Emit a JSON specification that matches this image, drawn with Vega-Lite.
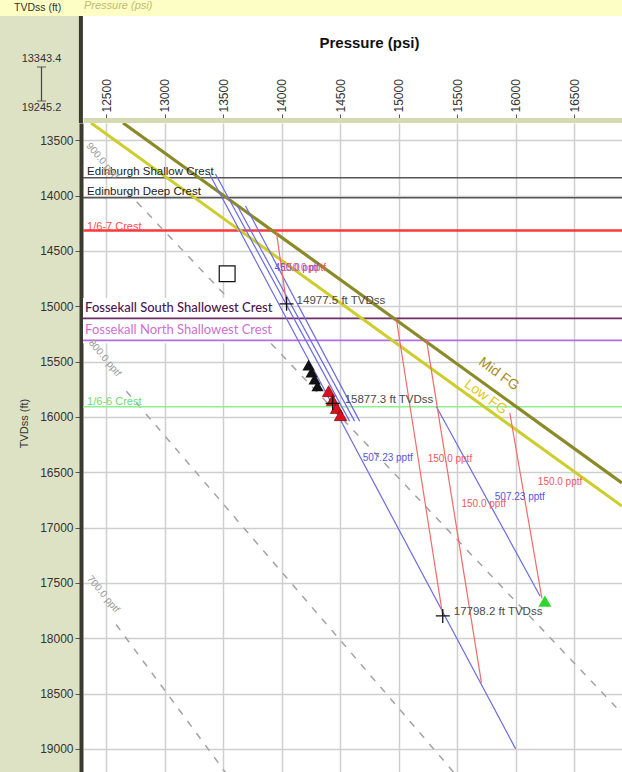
{
  "$schema": "https://vega.github.io/schema/vega-lite/v6.json",
  "background": "#fdfdc6",
  "padding": 0,
  "config": {"font": "Liberation Sans", "view": {"stroke": null}},
  "datasets": {
    "crests": [
      {"name": "Edinburgh Shallow Crest", "D": 13838},
      {"name": "Edinburgh Deep Crest", "D": 14019},
      {"name": "1/6-7 Crest", "D": 14314},
      {"name": "Fossekall South Shallowest Crest", "D": 15109},
      {"name": "Fossekall North Shallowest Crest", "D": 15308},
      {"name": "1/6-6 Crest", "D": 15908}
    ],
    "lines": [
      {"series": "Mid FG", "kind": "mid", "P": 12643, "D": 13343},
      {"series": "Mid FG", "kind": "mid", "P": 16909, "D": 16596},
      {"series": "Low FG", "kind": "low", "P": 12369, "D": 13343},
      {"series": "Low FG", "kind": "low", "P": 16909, "D": 16806},
      {"series": "g900", "kind": "grad", "P": 12671, "D": 13958},
      {"series": "g900", "kind": "grad", "P": 16909, "D": 18679},
      {"series": "g800", "kind": "grad", "P": 12671, "D": 15767},
      {"series": "g800", "kind": "grad", "P": 15522, "D": 19275},
      {"series": "g700", "kind": "grad", "P": 12583, "D": 17876},
      {"series": "g700", "kind": "grad", "P": 13562, "D": 19275},
      {"series": "b1", "kind": "blue", "P": 13382, "D": 13804},
      {"series": "b1", "kind": "blue", "P": 16000, "D": 19000},
      {"series": "b2", "kind": "blue", "P": 13433, "D": 13804},
      {"series": "b2", "kind": "blue", "P": 14580, "D": 16038},
      {"series": "b3", "kind": "blue", "P": 13621, "D": 14094},
      {"series": "b3", "kind": "blue", "P": 14623, "D": 16038},
      {"series": "b4", "kind": "blue", "P": 13690, "D": 14094},
      {"series": "b4", "kind": "blue", "P": 14666, "D": 16038},
      {"series": "b5", "kind": "blue", "P": 15323, "D": 15908},
      {"series": "b5", "kind": "blue", "P": 16210, "D": 17620},
      {"series": "r1", "kind": "red", "P": 13953, "D": 14320},
      {"series": "r1", "kind": "red", "P": 14041, "D": 14977.5},
      {"series": "r2", "kind": "red", "P": 14980, "D": 15115},
      {"series": "r2", "kind": "red", "P": 15377, "D": 17798.2},
      {"series": "r3", "kind": "red", "P": 15237, "D": 15299},
      {"series": "r3", "kind": "red", "P": 15708, "D": 18404},
      {"series": "r4", "kind": "red", "P": 15950, "D": 15962},
      {"series": "r4", "kind": "red", "P": 16225, "D": 17640}
    ],
    "markers": [
      {"kind": "square", "P": 13533, "D": 14706},
      {"kind": "black", "P": 14229, "D": 15532},
      {"kind": "black", "P": 14255, "D": 15595},
      {"kind": "black", "P": 14281, "D": 15658},
      {"kind": "black", "P": 14306, "D": 15721},
      {"kind": "red", "P": 14401, "D": 15767},
      {"kind": "red", "P": 14435, "D": 15848},
      {"kind": "red", "P": 14469, "D": 15920},
      {"kind": "red", "P": 14503, "D": 15984},
      {"kind": "green", "P": 16250, "D": 17665},
      {"kind": "cross", "P": 14041, "D": 14977.5},
      {"kind": "cross", "P": 14435, "D": 15877.3},
      {"kind": "cross", "P": 15377, "D": 17798.2}
    ],
    "labels": [
      {"kind": "depth", "text": "14977.5 ft TVDss", "P": 14127, "D": 14953},
      {"kind": "depth", "text": "15877.3 ft TVDss", "P": 14538, "D": 15848},
      {"kind": "depth", "text": "17798.2 ft TVDss", "P": 15471, "D": 17765},
      {"kind": "blue", "text": "507.23 pptf", "P": 14692, "D": 16370},
      {"kind": "blue", "text": "507.23 pptf", "P": 15822, "D": 16722},
      {"kind": "blue", "text": "450.0 pptf", "P": 13938, "D": 14652},
      {"kind": "red", "text": "150.0 pptf", "P": 15248, "D": 16384},
      {"kind": "red", "text": "150.0 pptf", "P": 15537, "D": 16791},
      {"kind": "red", "text": "150.0 pptf", "P": 16190, "D": 16587},
      {"kind": "red", "text": "150.0 pptf", "P": 13998, "D": 14652},
      {"kind": "grad", "text": "900.0 pptf", "P": 12466, "D": 13687},
      {"kind": "grad", "text": "800.0 pptf", "P": 12487, "D": 15468},
      {"kind": "grad", "text": "700.0 pptf", "P": 12474, "D": 17602},
      {"kind": "mid", "text": "Mid FG", "P": 15856, "D": 15613},
      {"kind": "low", "text": "Low FG", "P": 15745, "D": 15821}
    ]
  },
  "columns": 2,
  "spacing": 0,
  "bounds": "flush",
  "concat": [
    {
      "width": 83,
      "height": 107,
      "title": {"text": "TVDss (ft)", "anchor": "start", "fontSize": 10.5, "fontWeight": "normal", "color": "#333", "offset": 3, "dx": 14},
      "view": {"fill": "#dee2c4", "stroke": null},
      "data": {"values": [{"v": 13343.4, "label": "13343.4", "end": "top"}, {"v": 19245.2, "label": "19245.2", "end": "bottom"}]},
      "layer": [
        {
          "mark": {"type": "rule", "color": "#444", "strokeWidth": 1.2},
          "encoding": {
            "y": {"aggregate": "min", "field": "v", "type": "quantitative", "scale": {"domain": [4491, 23064], "reverse": true, "nice": false, "zero": false}, "axis": null},
            "y2": {"aggregate": "max", "field": "v"}
          }
        },
        {
          "mark": {"type": "tick", "color": "#444", "thickness": 1.2, "size": 9},
          "encoding": {"y": {"field": "v", "type": "quantitative", "scale": {"domain": [4491, 23064], "reverse": true, "nice": false, "zero": false}, "axis": null}}
        },
        {
          "transform": [{"filter": "datum.end == 'top'"}],
          "mark": {"type": "text", "baseline": "bottom", "dy": -3, "fontSize": 11, "color": "#333"},
          "encoding": {
            "y": {"field": "v", "type": "quantitative", "scale": {"domain": [4491, 23064], "reverse": true, "nice": false, "zero": false}, "axis": null},
            "text": {"field": "label"}
          }
        },
        {
          "transform": [{"filter": "datum.end == 'bottom'"}],
          "mark": {"type": "text", "baseline": "top", "dy": 1, "fontSize": 11, "color": "#333"},
          "encoding": {
            "y": {"field": "v", "type": "quantitative", "scale": {"domain": [4491, 23064], "reverse": true, "nice": false, "zero": false}, "axis": null},
            "text": {"field": "label"}
          }
        }
      ]
    },
    {
      "width": 539,
      "height": 107,
      "title": {"text": "Pressure (psi)", "anchor": "start", "fontSize": 11, "fontStyle": "italic", "fontWeight": "normal", "color": "#bdbd72", "offset": 3, "dx": 5},
      "view": {"fill": "white", "stroke": null},
      "data": {"values": [{}]},
      "mark": {"type": "rule", "color": "#3a3a30", "strokeWidth": 4},
      "encoding": {"x": {"datum": 12282, "type": "quantitative", "scale": {"domain": [12300, 16910], "nice": false, "zero": false}, "axis": null}}
    },
    {
      "width": 83,
      "height": 653,
      "view": {"fill": "#dee2c4", "stroke": null},
      "data": {"values": [{}]},
      "mark": {"type": "rect", "color": "#dee2c4"},
      "encoding": {}
    },
    {
      "width": 539,
      "height": 653,
      "view": {"fill": "white", "stroke": null},
      "layer": [
        {
          "data": {"name": "lines"},
          "transform": [{"filter": "datum.kind == 'grad'"}],
          "mark": {"type": "line", "color": "#a3a3a3", "strokeWidth": 1.5, "strokeDash": [7, 8], "clip": true},
          "encoding": {
            "x": {"field": "P", "type": "quantitative", "scale": {"domain": [12300, 16910], "nice": false, "zero": false},
              "axis": {"orient": "top", "offset": 3, "values": [12500, 13000, 13500, 14000, 14500, 15000, 15500, 16000, 16500], "format": "d", "labelAngle": -90, "labelAlign": "left", "labelBaseline": "middle", "labelFontSize": 12, "labelColor": "#333", "labelPadding": 2, "labelOverlap": false, "labelFlush": false, "tickSize": 6, "tickColor": "#555", "domainColor": "#d6dab2", "domainWidth": 5, "grid": true, "gridColor": "#cfcfcf", "gridWidth": 1.5, "title": "Pressure (psi)", "titleFontSize": 15, "titleFontWeight": "bold", "titleColor": "#111", "titlePadding": 28, "titleX": 286}},
            "y": {"field": "D", "type": "quantitative", "scale": {"domain": [13343.4, 19245.2], "reverse": true, "nice": false, "zero": false},
              "axis": {"orient": "left", "offset": 2, "values": [13500, 14000, 14500, 15000, 15500, 16000, 16500, 17000, 17500, 18000, 18500, 19000], "format": "d", "labelFontSize": 12, "labelColor": "#333", "labelPadding": 2, "labelFlush": false, "labelOverlap": false, "tickSize": 6, "tickColor": "#555", "domainColor": "#3a3a30", "domainWidth": 4, "grid": true, "gridColor": "#cfcfcf", "gridWidth": 1.5, "title": "TVDss (ft)", "titleFontSize": 11, "titleFontWeight": "normal", "titleColor": "#333", "titlePadding": 10, "titleY": 300}},
            "detail": {"field": "series"}
          }
        },
        {
          "data": {"values": [{}]},
          "mark": {"type": "rect", "color": "white"},
          "encoding": {
            "x": {"datum": 12300, "type": "quantitative", "scale": {"domain": [12300, 16910], "nice": false, "zero": false}},
            "x2": {"datum": 13990},
            "y": {"datum": 14925, "type": "quantitative", "scale": {"domain": [13343.4, 19245.2], "reverse": true, "nice": false, "zero": false}},
            "y2": {"datum": 15335}
          }
        },
        {
          "data": {"name": "crests"},
          "transform": [{"filter": "datum.name != '1/6-7 Crest'"}],
          "mark": {"type": "rule", "strokeWidth": 1.6},
          "encoding": {
            "y": {"field": "D", "type": "quantitative", "scale": {"domain": [13343.4, 19245.2], "reverse": true, "nice": false, "zero": false}},
            "color": {"field": "name", "type": "nominal", "legend": null,
              "scale": {"domain": ["Edinburgh Shallow Crest", "Edinburgh Deep Crest", "Fossekall South Shallowest Crest", "Fossekall North Shallowest Crest", "1/6-6 Crest"], "range": ["#555555", "#555555", "#6e2f68", "#b36ee6", "#8fef8f"]}}
          }
        },
        {
          "data": {"name": "crests"},
          "transform": [{"filter": "datum.name == '1/6-7 Crest'"}],
          "mark": {"type": "rule", "strokeWidth": 2.5, "color": "#ff3a3a"},
          "encoding": {
            "y": {"field": "D", "type": "quantitative", "scale": {"domain": [13343.4, 19245.2], "reverse": true, "nice": false, "zero": false}}
          }
        },
        {
          "data": {"name": "lines"},
          "transform": [{"filter": "datum.kind == 'low'"}],
          "mark": {"type": "line", "color": "#cdcd2c", "strokeWidth": 3, "clip": true},
          "encoding": {
            "x": {"field": "P", "type": "quantitative", "scale": {"domain": [12300, 16910], "nice": false, "zero": false}},
            "y": {"field": "D", "type": "quantitative", "scale": {"domain": [13343.4, 19245.2], "reverse": true, "nice": false, "zero": false}},
            "detail": {"field": "series"}
          }
        },
        {
          "data": {"name": "lines"},
          "transform": [{"filter": "datum.kind == 'mid'"}],
          "mark": {"type": "line", "color": "#8a8a28", "strokeWidth": 3.2, "clip": true},
          "encoding": {
            "x": {"field": "P", "type": "quantitative", "scale": {"domain": [12300, 16910], "nice": false, "zero": false}},
            "y": {"field": "D", "type": "quantitative", "scale": {"domain": [13343.4, 19245.2], "reverse": true, "nice": false, "zero": false}},
            "detail": {"field": "series"}
          }
        },
        {
          "data": {"name": "lines"},
          "transform": [{"filter": "datum.kind == 'blue'"}],
          "mark": {"type": "line", "color": "#6a6ae6", "strokeWidth": 1.2, "clip": true},
          "encoding": {
            "x": {"field": "P", "type": "quantitative", "scale": {"domain": [12300, 16910], "nice": false, "zero": false}},
            "y": {"field": "D", "type": "quantitative", "scale": {"domain": [13343.4, 19245.2], "reverse": true, "nice": false, "zero": false}},
            "detail": {"field": "series"}
          }
        },
        {
          "data": {"name": "lines"},
          "transform": [{"filter": "datum.kind == 'red'"}],
          "mark": {"type": "line", "color": "#f26a6a", "strokeWidth": 1.2, "clip": true},
          "encoding": {
            "x": {"field": "P", "type": "quantitative", "scale": {"domain": [12300, 16910], "nice": false, "zero": false}},
            "y": {"field": "D", "type": "quantitative", "scale": {"domain": [13343.4, 19245.2], "reverse": true, "nice": false, "zero": false}},
            "detail": {"field": "series"}
          }
        },
        {
          "data": {"name": "crests"},
          "transform": [{"filter": "indexof(datum.name, 'Edinburgh') >= 0"}],
          "mark": {"type": "text", "align": "left", "baseline": "middle", "dy": -5.5, "fontSize": 11.5, "color": "#222"},
          "encoding": {
            "x": {"datum": 12335, "type": "quantitative", "scale": {"domain": [12300, 16910], "nice": false, "zero": false}},
            "y": {"field": "D", "type": "quantitative", "scale": {"domain": [13343.4, 19245.2], "reverse": true, "nice": false, "zero": false}},
            "text": {"field": "name"}
          }
        },
        {
          "data": {"name": "crests"},
          "transform": [{"filter": "datum.name == '1/6-7 Crest'"}],
          "mark": {"type": "text", "align": "left", "baseline": "middle", "dy": -3.5, "fontSize": 11, "color": "#ff4a4a"},
          "encoding": {
            "x": {"datum": 12335, "type": "quantitative", "scale": {"domain": [12300, 16910], "nice": false, "zero": false}},
            "y": {"field": "D", "type": "quantitative", "scale": {"domain": [13343.4, 19245.2], "reverse": true, "nice": false, "zero": false}},
            "text": {"field": "name"}
          }
        },
        {
          "data": {"name": "crests"},
          "transform": [{"filter": "datum.name == '1/6-6 Crest'"}],
          "mark": {"type": "text", "align": "left", "baseline": "middle", "dy": -5, "fontSize": 11, "color": "#6fdc6f"},
          "encoding": {
            "x": {"datum": 12335, "type": "quantitative", "scale": {"domain": [12300, 16910], "nice": false, "zero": false}},
            "y": {"field": "D", "type": "quantitative", "scale": {"domain": [13343.4, 19245.2], "reverse": true, "nice": false, "zero": false}},
            "text": {"field": "name"}
          }
        },
        {
          "data": {"name": "crests"},
          "transform": [{"filter": "datum.name == 'Fossekall South Shallowest Crest'"}],
          "mark": {"type": "text", "align": "left", "baseline": "middle", "dy": -10, "fontSize": 13, "font": "Lato", "fontWeight": 500, "color": "#4a1650"},
          "encoding": {
            "x": {"datum": 12318, "type": "quantitative", "scale": {"domain": [12300, 16910], "nice": false, "zero": false}},
            "y": {"field": "D", "type": "quantitative", "scale": {"domain": [13343.4, 19245.2], "reverse": true, "nice": false, "zero": false}},
            "text": {"field": "name"}
          }
        },
        {
          "data": {"name": "crests"},
          "transform": [{"filter": "datum.name == 'Fossekall North Shallowest Crest'"}],
          "mark": {"type": "text", "align": "left", "baseline": "middle", "dy": -10, "fontSize": 13, "font": "Lato", "color": "#cf6fd6"},
          "encoding": {
            "x": {"datum": 12318, "type": "quantitative", "scale": {"domain": [12300, 16910], "nice": false, "zero": false}},
            "y": {"field": "D", "type": "quantitative", "scale": {"domain": [13343.4, 19245.2], "reverse": true, "nice": false, "zero": false}},
            "text": {"field": "name"}
          }
        },
        {
          "data": {"name": "labels"},
          "transform": [{"filter": "datum.kind == 'depth'"}],
          "mark": {"type": "text", "align": "left", "baseline": "middle", "fontSize": 11.5, "color": "#4a4a4a"},
          "encoding": {
            "x": {"field": "P", "type": "quantitative", "scale": {"domain": [12300, 16910], "nice": false, "zero": false}},
            "y": {"field": "D", "type": "quantitative", "scale": {"domain": [13343.4, 19245.2], "reverse": true, "nice": false, "zero": false}},
            "text": {"field": "text"}
          }
        },
        {
          "data": {"name": "labels"},
          "transform": [{"filter": "datum.kind == 'blue'"}],
          "mark": {"type": "text", "align": "left", "baseline": "middle", "fontSize": 10, "color": "#5555e0"},
          "encoding": {
            "x": {"field": "P", "type": "quantitative", "scale": {"domain": [12300, 16910], "nice": false, "zero": false}},
            "y": {"field": "D", "type": "quantitative", "scale": {"domain": [13343.4, 19245.2], "reverse": true, "nice": false, "zero": false}},
            "text": {"field": "text"}
          }
        },
        {
          "data": {"name": "labels"},
          "transform": [{"filter": "datum.kind == 'red'"}],
          "mark": {"type": "text", "align": "left", "baseline": "middle", "fontSize": 10, "color": "#ee5a5a"},
          "encoding": {
            "x": {"field": "P", "type": "quantitative", "scale": {"domain": [12300, 16910], "nice": false, "zero": false}},
            "y": {"field": "D", "type": "quantitative", "scale": {"domain": [13343.4, 19245.2], "reverse": true, "nice": false, "zero": false}},
            "text": {"field": "text"}
          }
        },
        {
          "data": {"name": "labels"},
          "transform": [{"filter": "datum.kind == 'grad'"}],
          "mark": {"type": "text", "align": "center", "baseline": "middle", "fontSize": 10, "angle": 50, "color": "#9a9a9a"},
          "encoding": {
            "x": {"field": "P", "type": "quantitative", "scale": {"domain": [12300, 16910], "nice": false, "zero": false}},
            "y": {"field": "D", "type": "quantitative", "scale": {"domain": [13343.4, 19245.2], "reverse": true, "nice": false, "zero": false}},
            "text": {"field": "text"}
          }
        },
        {
          "data": {"name": "labels"},
          "transform": [{"filter": "datum.kind == 'mid'"}],
          "mark": {"type": "text", "align": "center", "baseline": "middle", "fontSize": 14, "angle": 36, "color": "#a48c1e"},
          "encoding": {
            "x": {"field": "P", "type": "quantitative", "scale": {"domain": [12300, 16910], "nice": false, "zero": false}},
            "y": {"field": "D", "type": "quantitative", "scale": {"domain": [13343.4, 19245.2], "reverse": true, "nice": false, "zero": false}},
            "text": {"field": "text"}
          }
        },
        {
          "data": {"name": "labels"},
          "transform": [{"filter": "datum.kind == 'low'"}],
          "mark": {"type": "text", "align": "center", "baseline": "middle", "fontSize": 14, "angle": 36, "color": "#e2c81a"},
          "encoding": {
            "x": {"field": "P", "type": "quantitative", "scale": {"domain": [12300, 16910], "nice": false, "zero": false}},
            "y": {"field": "D", "type": "quantitative", "scale": {"domain": [13343.4, 19245.2], "reverse": true, "nice": false, "zero": false}},
            "text": {"field": "text"}
          }
        },
        {
          "data": {"name": "markers"},
          "transform": [{"filter": "datum.kind == 'square'"}],
          "mark": {"type": "point", "shape": "square", "size": 250, "fill": "white", "stroke": "#111", "strokeWidth": 1.2, "opacity": 1},
          "encoding": {
            "x": {"field": "P", "type": "quantitative", "scale": {"domain": [12300, 16910], "nice": false, "zero": false}},
            "y": {"field": "D", "type": "quantitative", "scale": {"domain": [13343.4, 19245.2], "reverse": true, "nice": false, "zero": false}}
          }
        },
        {
          "data": {"name": "markers"},
          "transform": [{"filter": "datum.kind == 'black'"}],
          "mark": {"type": "point", "shape": "triangle-up", "size": 150, "filled": true, "color": "#111", "opacity": 1},
          "encoding": {
            "x": {"field": "P", "type": "quantitative", "scale": {"domain": [12300, 16910], "nice": false, "zero": false}},
            "y": {"field": "D", "type": "quantitative", "scale": {"domain": [13343.4, 19245.2], "reverse": true, "nice": false, "zero": false}}
          }
        },
        {
          "data": {"name": "markers"},
          "transform": [{"filter": "datum.kind == 'red'"}],
          "mark": {"type": "point", "shape": "triangle-up", "size": 160, "filled": true, "fill": "#d80f1c", "stroke": "#6a0000", "strokeWidth": 0.6, "opacity": 1},
          "encoding": {
            "x": {"field": "P", "type": "quantitative", "scale": {"domain": [12300, 16910], "nice": false, "zero": false}},
            "y": {"field": "D", "type": "quantitative", "scale": {"domain": [13343.4, 19245.2], "reverse": true, "nice": false, "zero": false}}
          }
        },
        {
          "data": {"name": "markers"},
          "transform": [{"filter": "datum.kind == 'green'"}],
          "mark": {"type": "point", "shape": "triangle-up", "size": 170, "filled": true, "color": "#2fd62f", "opacity": 1},
          "encoding": {
            "x": {"field": "P", "type": "quantitative", "scale": {"domain": [12300, 16910], "nice": false, "zero": false}},
            "y": {"field": "D", "type": "quantitative", "scale": {"domain": [13343.4, 19245.2], "reverse": true, "nice": false, "zero": false}}
          }
        },
        {
          "data": {"name": "markers"},
          "transform": [{"filter": "datum.kind == 'cross'"}],
          "mark": {"type": "point", "shape": "M-1,0H1M0,-1V1", "size": 196, "filled": false, "color": "#111", "strokeWidth": 1.3, "opacity": 1},
          "encoding": {
            "x": {"field": "P", "type": "quantitative", "scale": {"domain": [12300, 16910], "nice": false, "zero": false}},
            "y": {"field": "D", "type": "quantitative", "scale": {"domain": [13343.4, 19245.2], "reverse": true, "nice": false, "zero": false}}
          }
        }
      ]
    }
  ]
}
